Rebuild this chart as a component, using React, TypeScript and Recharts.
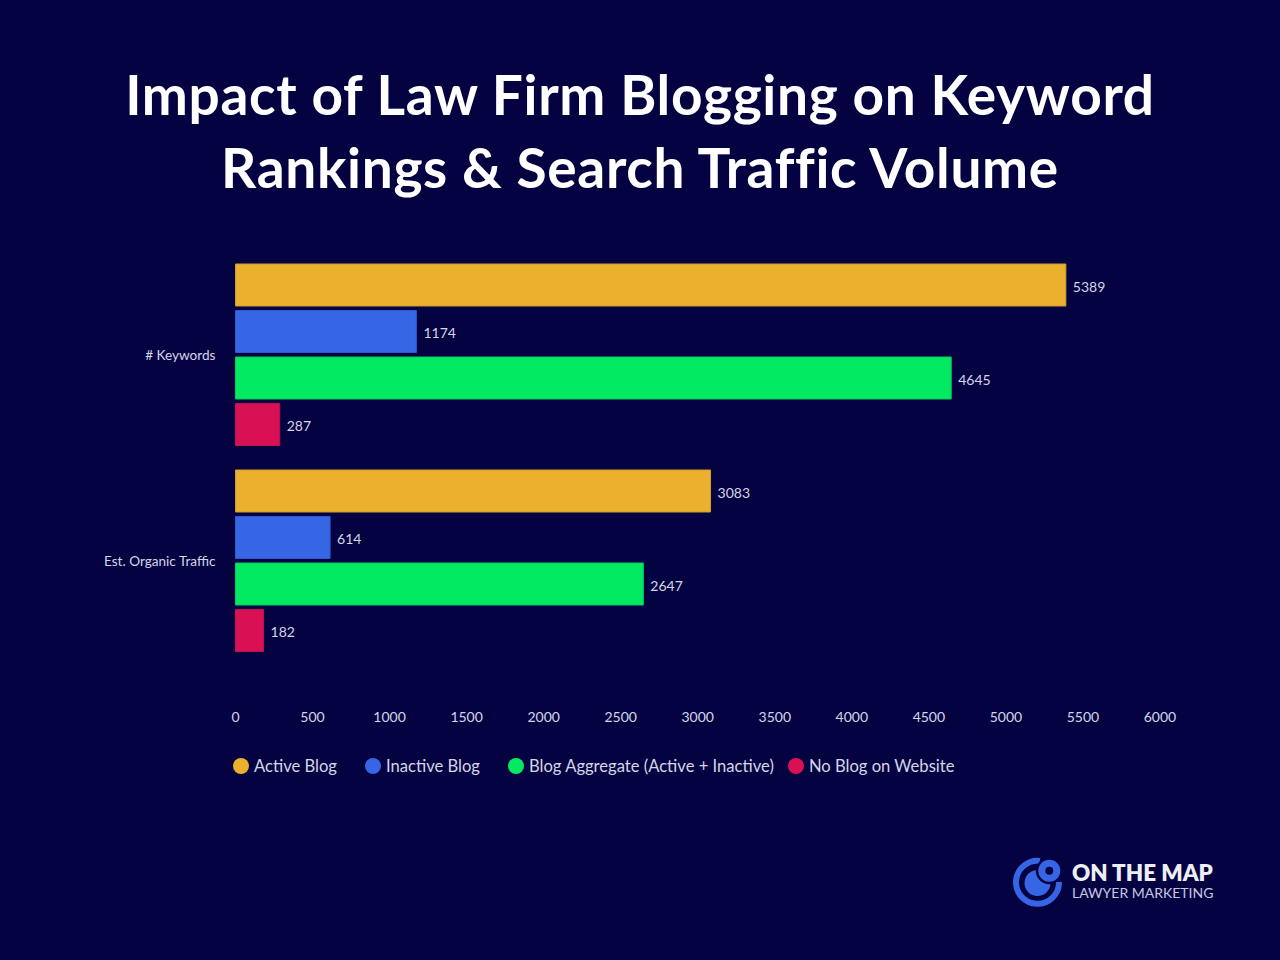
import { FC } from 'react'
import { Bar, BarChart, LabelList, Legend, XAxis, YAxis } from 'recharts'

const FONT = 'Lato, "Noto Sans", sans-serif'
const TEXT_COLOR = '#d5d5e8'
const BACKGROUND = '#050242'

const titleLines = ['Impact of Law Firm Blogging on Keyword', 'Rankings & Search Traffic Volume']
const categories = ['# Keywords', 'Est. Organic Traffic']
const activeBlog = [5389, 3083]
const inactiveBlog = [1174, 614]
const blogAggregate = [4645, 2647]
const noBlog = [287, 182]
const xTicks = [0, 500, 1000, 1500, 2000, 2500, 3000, 3500, 4000, 4500, 5000, 5500, 6000]

const data = categories.map((name, i) => ({
	name,
	active: activeBlog[i],
	inactive: inactiveBlog[i],
	aggregate: blogAggregate[i],
	none: noBlog[i],
}))

const seriesList = [
	{ key: 'active', name: 'Active Blog', color: '#ecb02f', stroke: '#d19c2e' },
	{ key: 'inactive', name: 'Inactive Blog', color: '#3665e6', stroke: '#2f58cc' },
	{ key: 'aggregate', name: 'Blog Aggregate (Active + Inactive)', color: '#02ea62', stroke: '#05cc5a' },
	{ key: 'none', name: 'No Blog on Website', color: '#d91154', stroke: '#bd1150' },
]

const ChartLegend: FC = () => (
	<div style={{ display: 'flex', alignItems: 'center', fontFamily: FONT, fontSize: 16.6, color: TEXT_COLOR }}>
		{seriesList.map((s, i) => (
			<div key={s.key} style={{ display: 'flex', alignItems: 'center', marginRight: i === 2 ? 14 : 28, whiteSpace: 'nowrap' }}>
				<span style={{ width: 16, height: 16, borderRadius: 8, background: s.color, marginRight: 5 }} />
				{s.name}
			</div>
		))}
	</div>
)

const Logo: FC = () => (
	<div style={{ position: 'absolute', left: 1012, top: 856, width: 210, height: 54 }}>
		<svg width={50} height={52} viewBox='0 0 50 52' style={{ position: 'absolute', left: 0, top: 0 }}>
			<path d='M28 5 A 21.5 21.5 0 1 0 47 26' fill='none' stroke='#3665e6' strokeWidth={6} />
			<circle cx={25.5} cy={27} r={13} fill='#3665e6' />
			<circle cx={37.3} cy={14.7} r={13.5} fill={BACKGROUND} />
			<circle cx={37.3} cy={14.7} r={7.5} fill='none' stroke='#3665e6' strokeWidth={7} />
		</svg>
		<div style={{ position: 'absolute', left: 60, top: 3, fontFamily: FONT, fontWeight: 800, fontSize: 22.4, lineHeight: '28px', color: '#eeeef6', whiteSpace: 'nowrap' }}>
			ON THE MAP
		</div>
		<div style={{ position: 'absolute', left: 60, top: 28, fontFamily: FONT, fontSize: 14, lineHeight: '18px', color: '#c8c8e0', whiteSpace: 'nowrap' }}>
			LAWYER MARKETING
		</div>
	</div>
)

const App: FC = () => (
	<div style={{ position: 'absolute', left: 0, top: 0, width: 1280, height: 960, background: BACKGROUND, overflow: 'hidden' }}>
		<div style={{ position: 'absolute', left: 0, top: 58, width: 1280, textAlign: 'center', fontFamily: FONT, fontWeight: 700, fontSize: 55, letterSpacing: 0.68, lineHeight: '73px', color: '#ffffff' }}>
			{titleLines.map((line) => (
				<div key={line}>{line}</div>
			))}
		</div>
		<BarChart
			layout='vertical'
			width={1280}
			height={800}
			data={data}
			margin={{ top: 252, right: 120, bottom: 86, left: 0.5 }}
			barSize={42}
			barGap={4.5}
			style={{ position: 'absolute', left: 0, top: 0 }}
		>
			<XAxis
				type='number'
				domain={[0, 6000]}
				ticks={xTicks}
				axisLine={false}
				tickLine={false}
				tickMargin={42}
				interval={0}
				tick={{ fill: TEXT_COLOR, fontFamily: FONT, fontSize: 14 }}
			/>
			<YAxis
				type='category'
				dataKey='name'
				width={235}
				axisLine={false}
				tickLine={false}
				tickMargin={14}
				tick={{ fill: TEXT_COLOR, fontFamily: FONT, fontSize: 13.6 }}
			/>
			<Legend content={<ChartLegend />} wrapperStyle={{ left: 233, top: 756, width: 900 }} />
			{seriesList.map((s) => (
				<Bar key={s.key} dataKey={s.key} name={s.name} fill={s.color} stroke={s.stroke} isAnimationActive={false}>
					<LabelList dataKey={s.key} position='right' offset={7} dy={2} fill={TEXT_COLOR} fontFamily={FONT} fontSize={14} />
				</Bar>
			))}
		</BarChart>
		<Logo />
	</div>
)

export default App
